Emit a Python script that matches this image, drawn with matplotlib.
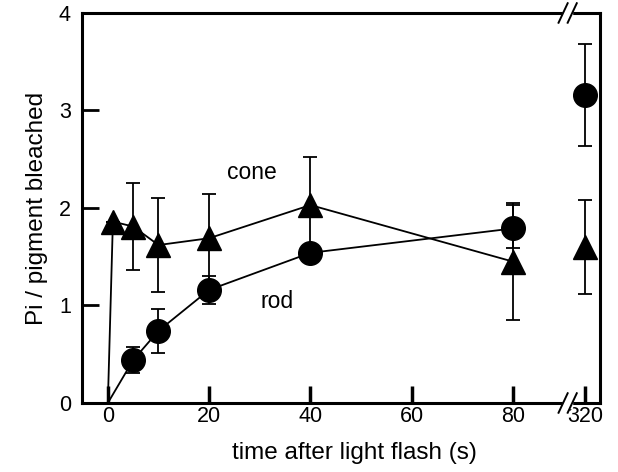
import matplotlib.pyplot as plt
from matplotlib.patches import Rectangle

plt.rcParams['font.family'] = ['Liberation Sans', 'DejaVu Sans']

# time points (s); 320 s is drawn after the axis break
rod_t = [0, 5, 10, 20, 40, 80]
rod_y = [0, 0.44, 0.74, 1.16, 1.54, 1.79]
rod_err_lo = [0, 0.13, 0.23, 0.14, 0.02, 0.20]
rod_err_hi = [0, 0.13, 0.22, 0.14, 0.02, 0.24]

cone_t = [0, 1, 5, 10, 20, 40, 80]
cone_y = [0, 1.86, 1.81, 1.62, 1.69, 2.03, 1.45]
cone_err = [0, 0.0, 0.45, 0.48, 0.45, 0.49, 0.60]

late_t = 320
rod_late, rod_late_err = 3.16, 0.52
cone_late, cone_late_err = 1.60, 0.48

xticks = [0, 20, 40, 60, 80]
late_pos = 94.3  # where 320 sits on the broken axis
brk = 90.8

fig = plt.figure(figsize=(6.18, 4.72), dpi=100)
ax = fig.add_axes([0.1327, 0.1462, 0.8383, 0.8263])

ms = 17
ax.errorbar(rod_t, rod_y, yerr=[rod_err_lo, rod_err_hi], color='black', lw=1.3,
            marker='o', ms=ms, markevery=list(range(1, len(rod_t))),
            capsize=5, elinewidth=1.3, capthick=1.3, zorder=3)
ax.errorbar(cone_t, cone_y, yerr=cone_err, color='black', lw=1.3,
            marker='^', ms=ms, markevery=list(range(1, len(cone_t))),
            capsize=5, elinewidth=1.3, capthick=1.3, zorder=3)
ax.errorbar([late_pos], [rod_late], yerr=rod_late_err, color='black', fmt='o', ms=ms,
            capsize=5, elinewidth=1.3, capthick=1.3)
ax.errorbar([late_pos], [cone_late], yerr=cone_late_err, color='black', fmt='^', ms=ms,
            capsize=5, elinewidth=1.3, capthick=1.3)

ax.text(28.5, 2.36, 'cone', fontsize=16.5, ha='center', va='center')
ax.text(33.4, 1.04, 'rod', fontsize=16.5, ha='center', va='center')

ax.set_xlim(-5.1, 97.2)
ax.set_ylim(0, 4)
ax.set_xticks(xticks + [late_pos])
ax.set_xticklabels([str(v) for v in xticks] + [str(late_t)])
ax.set_yticks([0, 1, 2, 3, 4])
ax.tick_params(axis='x', direction='in', length=12, width=2.5, labelsize=15.5, pad=2)
ax.tick_params(axis='y', direction='in', length=12, width=2.0, labelsize=15.5, pad=8)
for s in ax.spines.values():
    s.set_linewidth(2.2)

ax.set_xlabel('time after light flash (s)', fontsize=17.5)
ax.xaxis.set_label_coords(0.525, -0.1)
ax.set_ylabel('Pi / pigment bleached', fontsize=17.5, labelpad=8)

# axis break marks on top and bottom spines
trans = ax.get_xaxis_transform()
for yb in (0, 1):
    ax.add_patch(Rectangle((brk - 0.9, yb - 0.012), 1.8, 0.024, transform=trans,
                           color='white', clip_on=False, zorder=5))
    for dx in (-0.9, 0.9):
        ax.plot([brk + dx - 0.9, brk + dx + 0.9], [yb - 0.025, yb + 0.025],
                transform=trans, color='black', lw=1.4, clip_on=False, zorder=6)

fig.savefig('out.png', dpi=100)
